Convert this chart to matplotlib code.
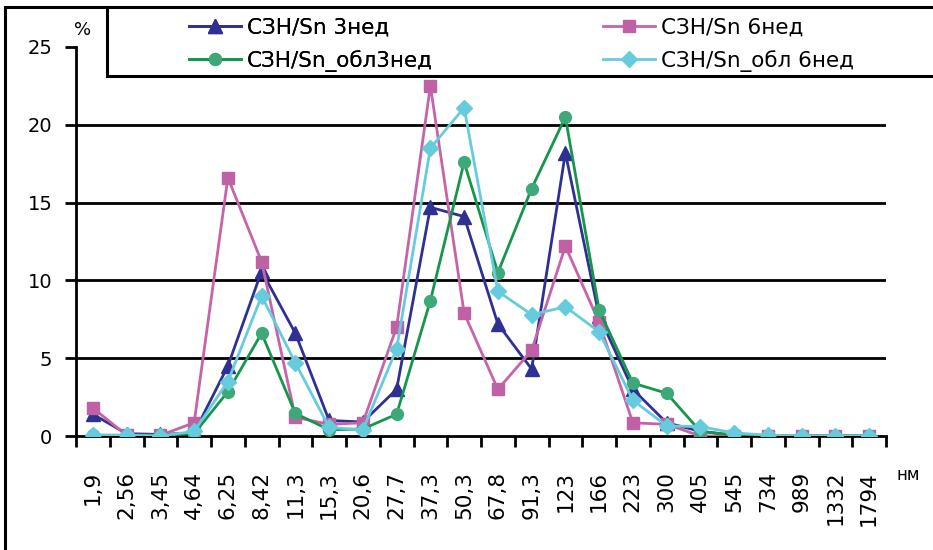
#!/usr/bin/env python3
"""Particle size distribution: СЗН/Sn samples, 3 and 6 weeks."""

import matplotlib
matplotlib.use('Agg')
import matplotlib.pyplot as plt
from matplotlib.lines import Line2D
import numpy as np

plt.rcParams['font.family'] = ['DejaVu Sans']

# size classes, nm
SIZES = ['1,9', '2,56', '3,45', '4,64', '6,25', '8,42', '11,3', '15,3', '20,6',
         '27,7', '37,3', '50,3', '67,8', '91,3', '123', '166', '223', '300',
         '405', '545', '734', '989', '1332', '1794']

# fractions, %
SN_3W = [1.4, 0.15, 0.1, 0.2, 4.5, 10.6, 6.6, 1.0, 0.9, 3.0, 14.7, 14.1, 7.2,
         4.3, 18.2, 7.7, 3.0, 0.85, 0.3, 0.05, 0.0, 0.0, 0.0, 0.0]
SN_6W = [1.8, 0.05, 0.05, 0.85, 16.6, 11.2, 1.2, 0.75, 0.85, 7.0, 22.5, 7.9, 3.0,
         5.5, 12.2, 7.3, 0.85, 0.75, 0.0, 0.0, 0.0, 0.0, 0.0, 0.0]
SN_OBL_3W = [0.05, 0.05, 0.05, 0.15, 2.85, 6.6, 1.45, 0.4, 0.45, 1.4, 8.7, 17.6,
             10.5, 15.9, 20.5, 8.1, 3.4, 2.75, 0.3, 0.05, 0.0, 0.0, 0.0, 0.0]
SN_OBL_6W = [0.05, 0.05, 0.0, 0.3, 3.5, 9.0, 4.7, 0.55, 0.4, 5.6, 18.5, 21.1,
             9.3, 7.8, 8.3, 6.7, 2.3, 0.65, 0.6, 0.2, 0.05, 0.0, 0.0, 0.0]

LABELS = ['СЗН/Sn 3нед', 'СЗН/Sn 6нед', 'СЗН/Sn_обл3нед', 'СЗН/Sn_обл 6нед']
Y_TICKS = [0, 5, 10, 15, 20, 25]


def main():
    fig = plt.figure(figsize=(9.33, 5.5), dpi=100)
    ax = fig.add_axes([76 / 933, 1 - 436 / 550, 810 / 933, 389 / 550])

    x = np.arange(len(SIZES))

    l1, = ax.plot(x, SN_3W, color='#2E3192', lw=2, marker='^', ms=9.5,
                  mfc='#2E3192', mec='#2E3192', zorder=3)
    l2, = ax.plot(x, SN_6W, color='#C564A8', lw=2, marker='s', ms=8,
                  mfc='#C060A5', mec='#C060A5', zorder=4)
    l3, = ax.plot(x, SN_OBL_3W, color='#16964A', lw=2, marker='o', ms=8.5,
                  mfc='#3DA878', mec='#3DA878', zorder=5)
    l4, = ax.plot(x, SN_OBL_6W, color='#66CCDD', lw=2, marker='D', ms=8,
                  mfc='#66CCDD', mec='#66CCDD', zorder=6)

    ax.set_xlim(-0.5, len(SIZES) - 0.5)
    ax.set_ylim(0, 25)

    # y axis
    ax.set_yticks(Y_TICKS)
    ax.tick_params(axis='y', direction='out', length=8, width=2, pad=9,
                   labelsize=14)
    for v in Y_TICKS[1:-1]:
        ax.axhline(v, color='black', lw=2, zorder=1)

    # x axis: labels at categories, tick marks between them
    ax.set_xticks(x)
    ax.set_xticklabels(SIZES, rotation=90, fontsize=15.5)
    ax.set_xticks(np.arange(len(SIZES) + 1) - 0.5, minor=True)
    ax.tick_params(axis='x', which='major', length=0, pad=25)
    ax.tick_params(axis='x', which='minor', direction='out', length=8, width=2)

    for side in ['top', 'right']:
        ax.spines[side].set_visible(False)
    ax.spines['left'].set_linewidth(2)
    ax.spines['bottom'].set_linewidth(2)

    fig.text(83 / 933, 1 - 30 / 550, '%', ha='center', va='center', fontsize=13)
    fig.text(908 / 933, 1 - 475 / 550, 'нм', ha='center', va='center', fontsize=12)

    # outer frame (left and top) and legend box
    fig.add_artist(Line2D([5 / 933, 5 / 933], [0, 1 - 7 / 550], color='black', lw=2.2))
    fig.add_artist(Line2D([5 / 933, 1], [1 - 7 / 550, 1 - 7 / 550], color='black', lw=2.2))
    fig.add_artist(Line2D([107 / 933, 107 / 933], [1 - 7 / 550, 1 - 76 / 550],
                          color='black', lw=2.2))
    fig.add_artist(Line2D([107 / 933, 1], [1 - 76 / 550, 1 - 76 / 550],
                          color='black', lw=2.2))

    leg_kw = dict(loc='upper left', frameon=False, fontsize=15.5,
                  handlelength=2.4, handletextpad=0.3, labelspacing=0.55,
                  borderaxespad=0, borderpad=0)
    leg1 = fig.legend([l1, l3], [LABELS[0], LABELS[2]],
                      bbox_to_anchor=(189 / 933, 1 - 18 / 550), **leg_kw)
    fig.add_artist(leg1)
    fig.legend([l2, l4], [LABELS[1], LABELS[3]],
               bbox_to_anchor=(603 / 933, 1 - 18 / 550), **leg_kw)

    fig.savefig('out.png', dpi=100)
    plt.close(fig)


if __name__ == '__main__':
    main()
